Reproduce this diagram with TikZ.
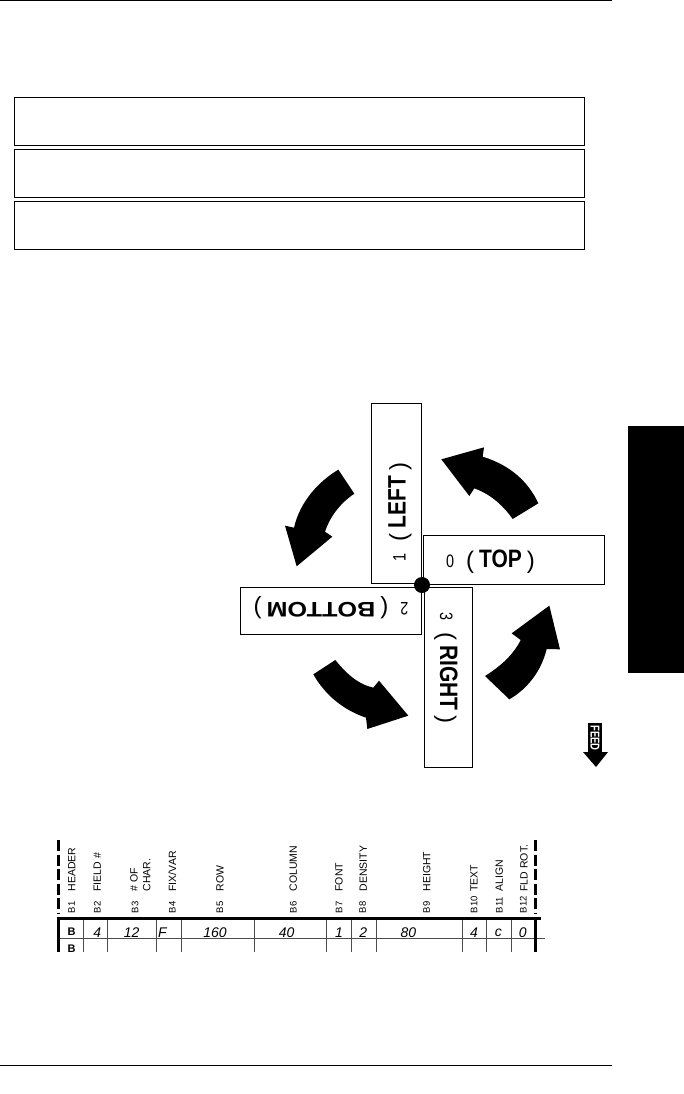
\documentclass[tikz,border=0pt]{standalone}
\usepackage{fontspec}
\setmainfont{Liberation Sans}
\newcommand{\fsz}[1]{\fontsize{#1}{#1}\selectfont}
\newcommand{\orient}[4]{\scalebox{0.8}[1]{\fsz{18}#1}\hspace{12pt}{\fsz{24}\raisebox{-1pt}{(}}\hspace{5pt}\scalebox{#3}[#4]{\fsz{21}\bfseries #2}\hspace{5pt}{\fsz{24}\raisebox{-1pt}{)}}}
\tikzset{
  rulebox/.style={draw=black,line width=1pt,fill=white,inner sep=0pt},
  blackarrow/.style={fill=black,draw=none},
  hd/.style={rotate=90,anchor=west,inner sep=0pt,font=\fsz{10.5}},
  bn/.style={rotate=90,anchor=west,inner sep=0pt,font=\fsz{9.5}},
  hand/.style={inner sep=0pt,font=\fsz{14}\itshape},
  bfb/.style={inner sep=0pt,font=\fsz{11}\bfseries},
  grid line/.style={line width=0.8pt,black!70},
}
\begin{document}
\begin{tikzpicture}[x=1pt,y=-1pt]
\useasboundingbox (0,0) rectangle (684,1094);
\fill[white] (0,0) rectangle (684,1094);
% page rules
\coordinate (rt1) at (0,0.7); \coordinate (rt2) at (612,0.7);
\coordinate (rb1) at (0,1065); \coordinate (rb2) at (612,1065);
\draw[line width=1pt] (rt1) -- (rt2);
\draw[line width=1pt] (rb1) -- (rb2);
% side tab
\node[fill=black,inner sep=0pt,minimum width=56pt,minimum height=247pt] (tab) at (656,549.5) {};
% top boxes
\node[rulebox,minimum width=570pt,minimum height=48pt] (note1) at (299,122) {};
\node[rulebox,minimum width=570pt,minimum height=47pt] (note2) at (299,173.5) {};
\node[rulebox,minimum width=570pt,minimum height=48pt] (note3) at (299,225) {};
% rotation boxes
\node[rulebox,minimum width=50pt,minimum height=180pt] (left) at (396,493) {};
\node[rulebox,minimum width=181pt,minimum height=49pt] (top) at (513.5,559.5) {};
\node[rulebox,minimum width=181pt,minimum height=47pt] (bottom) at (330.5,610.5) {};
\node[rulebox,minimum width=48pt,minimum height=180pt] (right) at (448,677) {};
\node[inner sep=0pt] (ttop) at (490.5,562) {\orient{0}{TOP}{1}{1.2}};
\node[inner sep=0pt,rotate=90] (tleft) at (400,512) {\orient{1}{LEFT}{1}{1.2}};
\node[inner sep=0pt,rotate=180] (tbottom) at (331,608) {\orient{2}{BOTTOM}{1.2}{1}};
\node[inner sep=0pt,rotate=-90] (tright) at (446,668) {\orient{3}{RIGHT}{1}{1.2}};
\node[circle,fill=black,inner sep=0pt,minimum size=16pt] (pivot) at (422,585) {};
% curved arrows
\begin{scope}[shift={(230,395)},x=0.33333pt,y=-0.33333pt]
\fill[blackarrow] (925,325) -- (848,372) .. controls (815,325) and (775,295) .. (733,280) -- (718,303) -- (634,193) -- (762,157) -- (758,185) .. controls (840,210) and (895,260) .. (925,325) -- cycle;
\fill[blackarrow] (325,224) -- (373,296) .. controls (330,325) and (300,365) .. (285,410) -- (307,425) -- (200,514) -- (165,392) -- (192,398) .. controls (210,320) and (265,260) .. (325,224) -- cycle;
\fill[blackarrow] (250,838) -- (316,795) .. controls (360,850) and (395,870) .. (430,878) -- (447,857) -- (535,962) -- (412,1002) -- (408,968) .. controls (340,945) and (285,900) .. (250,838) -- cycle;
\fill[blackarrow] (765,843) -- (838,913) .. controls (895,880) and (935,825) .. (950,762) -- (990,763) -- (958,632) -- (845,715) -- (872,735) .. controls (850,780) and (810,815) .. (765,843) -- cycle;
\end{scope}
% feed arrow
\fill[black] (588,723) rectangle (602,752);
\fill[black] (583,752) -- (608,752) -- (596,767) -- cycle;
\node[inner sep=0pt,rotate=-90,yscale=1.35,text=white,font=\fsz{9.5}\bfseries] (feed) at (595,738) {FEED};
% table
\begin{scope}[shift={(40,830)},x=0.33333pt,y=-0.33333pt]
\foreach \xx in {130,202,350,423,642,860,934,1008,1266,1340,1413}
  \draw[grid line] (\xx,265) -- (\xx,366);
\draw[grid line] (55,325) -- (1515,325);
\draw[line width=2.6pt,dash pattern=on 11pt off 3.5pt] (56,30) -- (56,252);
\draw[line width=2.6pt,dash pattern=on 11pt off 3.5pt] (1487,30) -- (1487,252);
\draw[line width=3pt] (55,366) -- (55,265) -- (1503,265);
\draw[line width=3pt] (1487,265) -- (1487,366);
\node[bn] (b1) at (95,250) {B1};
\node[bn] (b2) at (172,250) {B2};
\node[bn] (b3) at (285,250) {B3};
\node[bn] (b4) at (397,250) {B4};
\node[bn] (b5) at (540,250) {B5};
\node[bn] (b6) at (760,250) {B6};
\node[bn] (b7) at (897,250) {B7};
\node[bn] (b8) at (968,250) {B8};
\node[bn] (b9) at (1160,250) {B9};
\node[bn] (b10) at (1302,250) {B10};
\node[bn] (b11) at (1378,250) {B11};
\node[bn] (b12) at (1450,250) {B12};
\node[hd] (h1) at (95,185) {HEADER};
\node[hd] (h2) at (172,185) {FIELD \#};
\node[hd] (h3) at (282,185) {\# OF};
\node[hd] (h3b) at (320,185) {CHAR.};
\node[hd] (h4) at (397,185) {FIX/VAR};
\node[hd] (h5) at (540,185) {ROW};
\node[hd] (h6) at (760,185) {COLUMN};
\node[hd] (h7) at (897,185) {FONT};
\node[hd] (h8) at (970,185) {DENSITY};
\node[hd] (h9) at (1160,185) {HEIGHT};
\node[hd] (h10) at (1302,185) {TEXT};
\node[hd] (h11) at (1378,185) {ALIGN};
\node[hd] (h12) at (1452,185) {FLD ROT.};
\node[bfb] (vb) at (95,305) {B};
\node[hand] (v2) at (172,308) {4};
\node[hand] (v3) at (275,308) {12};
\node[hand] (v4) at (367,308) {F};
\node[hand] (v5) at (525,308) {160};
\node[hand] (v6) at (740,308) {40};
\node[hand] (v7) at (897,308) {1};
\node[hand] (v8) at (970,308) {2};
\node[hand] (v9) at (1105,308) {80};
\node[hand] (v10) at (1302,308) {4};
\node[hand] (v11) at (1375,308) {c};
\node[hand] (v12) at (1448,308) {0};
\begin{scope}
\clip (60,330) rectangle (125,366);
\node[bfb] (vb2) at (95,357) {B};
\end{scope}
\end{scope}
\end{tikzpicture}
\end{document}
